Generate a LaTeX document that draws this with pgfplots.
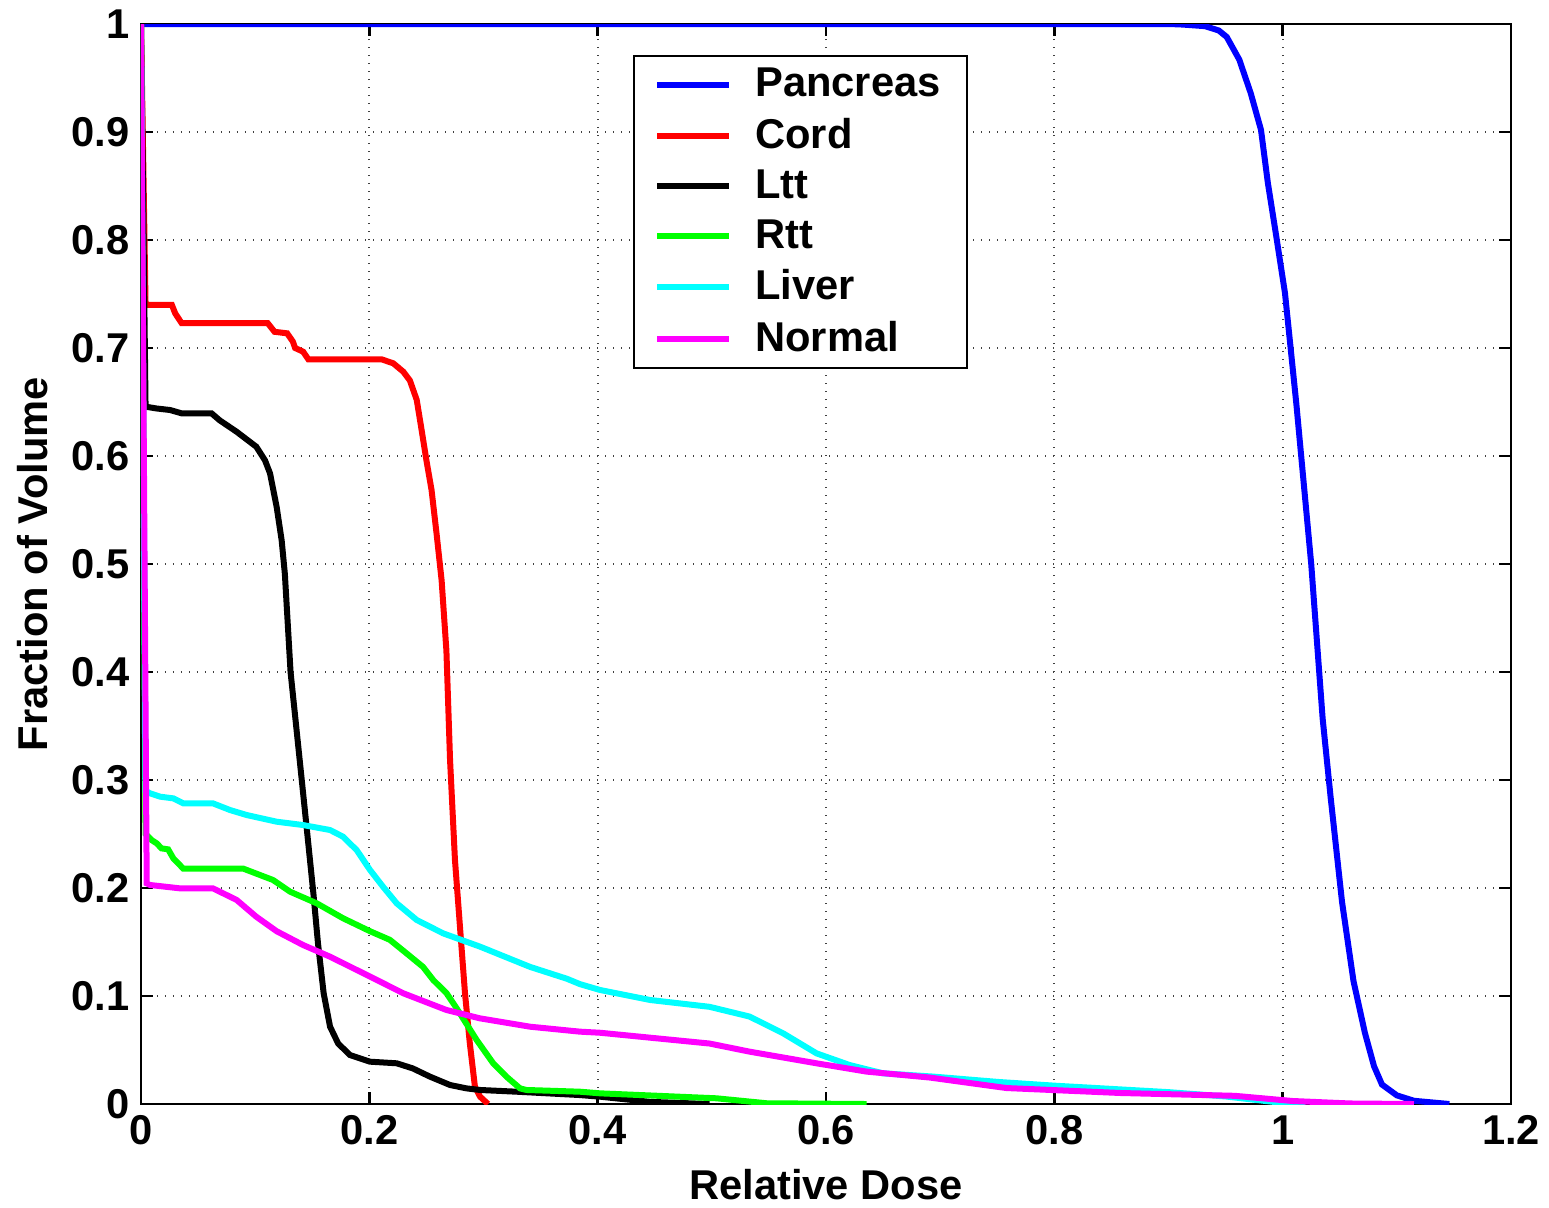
\documentclass[border=0pt]{standalone}
\usepackage{fontspec}
\setmainfont{Liberation Sans}
\usepackage{pgfplots}
\pgfplotsset{compat=1.18}
\usetikzlibrary{calc}

\definecolor{cPan}{RGB}{0,0,255}
\definecolor{cCord}{RGB}{255,0,0}
\definecolor{cLtt}{RGB}{0,0,0}
\definecolor{cRtt}{RGB}{0,255,0}
\definecolor{cLiver}{RGB}{0,255,255}
\definecolor{cNorm}{RGB}{255,0,255}

\begin{document}
\begin{tikzpicture}
\begin{axis}[
    scale only axis,
    width=411pt, height=324pt,
    xmin=0, xmax=1.2, ymin=0, ymax=1,
    xtick={0,0.2,0.4,0.6,0.8,1,1.2},
    ytick={0,0.1,0.2,0.3,0.4,0.5,0.6,0.7,0.8,0.9,1},
    grid=major,
    major grid style={dotted, black!75, line width=0.6pt},
    axis line style={line width=0.8pt},
    tick style={line width=0.8pt, black},
    tick align=inside,
    major tick length=3.6pt,
    /pgf/number format/assume math mode=true,
    ticklabel style={font=\fontsize{12.5}{14}\selectfont\bfseries},
    xlabel={Relative Dose},
    ylabel={Fraction of Volume},
    label style={font=\fontsize{12.5}{14}\selectfont\bfseries},
    xlabel style={at={(axis description cs:0.5,-0.075)}, anchor=center},
    ylabel style={at={(axis description cs:-0.0788,0.5)}, anchor=center},
    legend style={at={(axis cs:0.431,0.971)}, anchor=north west,
        font=\fontsize{12.5}{14}\selectfont\bfseries,
        draw=black, line width=0.6pt, inner xsep=6pt, inner ysep=1.5pt,
        row sep=0.9pt},
    legend cell align=left,
    legend image code/.code={\draw[#1] (0pt,0pt) -- (21.5pt,0pt); \path (26.6pt,0pt);},
    every axis plot/.append style={line width=1.8pt},
]
\coordinate (sw) at (rel axis cs:0,0);
\coordinate (ne) at (rel axis cs:1,1);

\addplot[cPan] coordinates {
(0,1) (0.90,1) (0.912,0.9995) (0.932,0.998) (0.944,0.994) (0.951,0.988)
(0.962,0.967) (0.972,0.936) (0.981,0.902) (0.987,0.853) (0.994,0.806)
(1.002,0.751) (1.012,0.648) (1.025,0.5) (1.035,0.357) (1.042,0.284)
(1.052,0.187) (1.062,0.114) (1.072,0.066) (1.080,0.035) (1.087,0.018)
(1.10,0.008) (1.115,0.003) (1.146,0)
};
\addplot[cCord] coordinates {
(0,1) (0.004,0.74) (0.027,0.74) (0.030,0.732) (0.0356,0.723) (0.111,0.723)
(0.117,0.715) (0.128,0.7136) (0.133,0.706) (0.135,0.70) (0.142,0.6966)
(0.1466,0.6895) (0.2108,0.6895) (0.221,0.6858) (0.2298,0.678) (0.2355,0.670)
(0.2415,0.652) (0.2458,0.624) (0.250,0.596) (0.2545,0.5685) (0.2589,0.528)
(0.2633,0.485) (0.2675,0.42) (0.2707,0.3185) (0.275,0.226) (0.2794,0.164)
(0.2838,0.1025) (0.288,0.0564) (0.2925,0.016) (0.297,0.0068) (0.304,0)
};
\addplot[cLtt] coordinates {
(0,1) (0.004,0.6457) (0.0137,0.644) (0.0254,0.6426) (0.0356,0.6395)
(0.0618,0.6395) (0.069,0.633) (0.0837,0.6225) (0.101,0.6086) (0.1086,0.596)
(0.113,0.584) (0.1188,0.553) (0.1232,0.522) (0.126,0.491) (0.131,0.40)
(0.139,0.3185) (0.145,0.257) (0.151,0.195) (0.155,0.149) (0.160,0.1025)
(0.1656,0.0716) (0.1727,0.056) (0.183,0.0454) (0.2006,0.0392) (0.224,0.0377)
(0.238,0.033) (0.253,0.0254) (0.2707,0.0176) (0.285,0.0145) (0.297,0.013)
(0.329,0.0114) (0.3845,0.0083) (0.402,0.0068) (0.446,0.002) (0.498,0)
};
\addplot[cRtt] coordinates {
(0,1) (0.004,0.25) (0.0093,0.2444) (0.0137,0.2414) (0.018,0.2367)
(0.0238,0.2358) (0.0283,0.2275) (0.037,0.218) (0.0895,0.218) (0.1157,0.2074)
(0.1306,0.1966) (0.154,0.1858) (0.177,0.172) (0.2006,0.16) (0.218,0.152)
(0.2326,0.1395) (0.247,0.127) (0.256,0.1148) (0.2677,0.1025) (0.2765,0.0886)
(0.294,0.0593) (0.3085,0.0377) (0.32,0.0254) (0.332,0.0145) (0.3377,0.013)
(0.3845,0.0114) (0.402,0.0099) (0.504,0.0053) (0.548,0.0007) (0.6356,0)
};
\addplot[cLiver] coordinates {
(0,1) (0.004,0.29) (0.0079,0.2877) (0.0166,0.2846) (0.0283,0.283)
(0.037,0.2784) (0.063,0.2784) (0.078,0.2722) (0.0925,0.2676) (0.1188,0.2614)
(0.142,0.2583) (0.1656,0.2537) (0.177,0.2475) (0.189,0.235) (0.2006,0.2167)
(0.212,0.2012) (0.224,0.1858) (0.2415,0.1704) (0.2647,0.158) (0.297,0.1457)
(0.329,0.132) (0.3407,0.127) (0.373,0.116) (0.3845,0.111) (0.402,0.1056)
(0.446,0.0963) (0.498,0.090) (0.533,0.081) (0.5626,0.0654) (0.5917,0.0469)
(0.621,0.036) (0.650,0.0284) (0.694,0.0254) (0.75,0.0205) (0.8,0.017)
(0.9,0.011) (0.95,0.007) (1.0,0.001) (1.02,0)
};
\addplot[cNorm] coordinates {
(0,1) (0.005,0.2043) (0.0079,0.2028) (0.034,0.1997) (0.063,0.1997)
(0.0837,0.189) (0.101,0.1734) (0.1188,0.16) (0.142,0.1472) (0.1656,0.1364)
(0.2006,0.118) (0.2298,0.1025) (0.2677,0.087) (0.297,0.0793) (0.3407,0.0716)
(0.3845,0.067) (0.402,0.066) (0.498,0.056) (0.533,0.0485) (0.5917,0.0377)
(0.6356,0.030) (0.691,0.0245) (0.758,0.0148) (0.858,0.0102) (0.958,0.0076)
(1.0086,0.0028) (1.059,0.0005) (1.115,0)
};
\legend{Pancreas, Cord, Ltt, Rtt, Liver, Normal}
\end{axis}
\pgfresetboundingbox
\path ($(sw)+(-42.3pt,-30.9pt)$) rectangle ($(ne)+(11.4pt,7.2pt)$);
\end{tikzpicture}
\end{document}
